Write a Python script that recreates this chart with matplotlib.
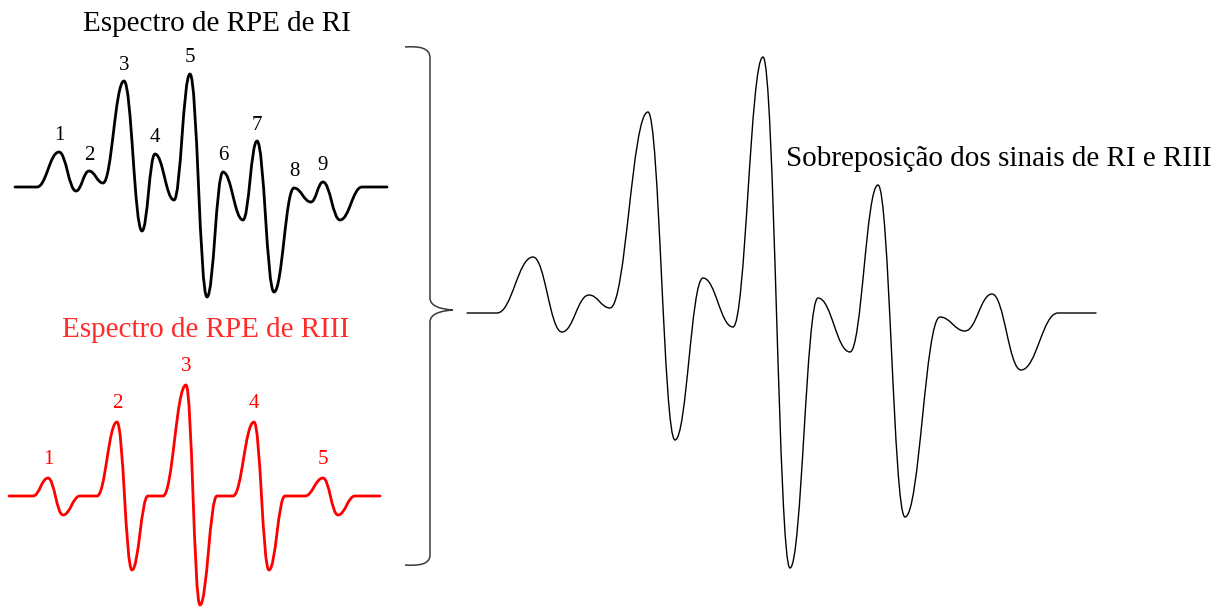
import matplotlib
matplotlib.use("Agg")
import matplotlib.pyplot as plt
from matplotlib.path import Path
from matplotlib.patches import PathPatch

plt.rcParams['font.family'] = ['Liberation Serif', 'DejaVu Serif']

# =====================================================
# Turning points of each spectrum (field, signal), arbitrary units
# =====================================================

# RPE spectrum of RI (black)
ri_field = [0, 22, 44, 61, 74, 88, 109, 127, 140, 159, 175,
            192, 208, 228, 242, 259, 279, 296, 308, 325, 347, 372]
ri_signal = [0, 0, 35, -4, 16, 4, 106, -44, 33, -13, 113,
             -110, 15, -33, 46, -105, -1, -15, 5, -33, 0, 0]
ri_labels = ["1", "2", "3", "4", "5", "6", "7", "8", "9"]

# RPE spectrum of RIII (red)
riii_field = [0, 24, 39, 54, 71, 88, 108, 123, 139, 154, 177, 191,
              208, 224, 245, 260, 276, 296, 314, 329, 346, 371]
riii_signal = [0, 0, 18, -19, 0, 0, 74, -74, 0, 0, 111, -109,
               0, 0, 74, -74, 0, 0, 18, -19, 0, 0]
riii_labels = ["1", "2", "3", "4", "5"]

# superposition of RI and RIII signals
sup_field = [0, 30, 66, 95, 122, 143, 181, 208, 236, 266, 296,
             323, 351, 383, 411, 438, 473, 498, 525, 554, 591, 629]
sup_signal = [0, 0, 56, -19, 18, 5, 201, -127, 35, -14, 256,
              -255, 15, -39, 128, -204, -4, -18, 19, -57, 0, 0]

title_ri = "Espectro de RPE de RI"
title_riii = "Espectro de RPE de RIII"
title_sup = "Sobreposição dos sinais de RI e RIII"

# =====================================================
# Figure
# =====================================================

W, H = 1222, 608
fig = plt.figure(figsize=(W / 100, H / 100), dpi=100)
fig.patch.set_facecolor("white")


def spectrum_axes(x0, y_base, field, signal):
    # axes placed so that one data unit = one pixel
    lo, hi = min(signal) - 5, max(signal) + 5
    fmax = max(field)
    ax = fig.add_axes([x0 / W, 1 - (y_base - lo) / H, fmax / W, (hi - lo) / H])
    ax.set_xlim(0, fmax)
    ax.set_ylim(lo, hi)
    ax.axis("off")
    return ax


def draw_curve(ax, field, signal, color, lw, k=0.42):
    # smooth curve through turning points, flat at every turning point
    verts = [(field[0], signal[0])]
    codes = [Path.MOVETO]
    for i in range(len(field) - 1):
        x0, y0 = field[i], signal[i]
        x1, y1 = field[i + 1], signal[i + 1]
        dx = x1 - x0
        verts += [(x0 + k * dx, y0), (x1 - k * dx, y1), (x1, y1)]
        codes += [Path.CURVE4] * 3
    patch = PathPatch(Path(verts, codes), facecolor="none", edgecolor=color,
                      lw=lw, capstyle="round", joinstyle="round", clip_on=False)
    ax.add_patch(patch)


def label_peaks(ax, field, signal, labels, color, offset):
    peaks = [i for i in range(1, len(signal) - 1)
             if signal[i] > signal[i - 1] and signal[i] > signal[i + 1]]
    for i, lab in zip(peaks, labels):
        ax.annotate(lab, (field[i], signal[i]), xytext=(0, offset),
                    textcoords="offset pixels", ha="center", va="center",
                    fontsize=15, color=color, annotation_clip=False)


# RI
ax1 = spectrum_axes(15, 187, ri_field, ri_signal)
draw_curve(ax1, ri_field, ri_signal, "black", 2.0)
label_peaks(ax1, ri_field, ri_signal, ri_labels, "black", 16)

# RIII
ax2 = spectrum_axes(9, 496, riii_field, riii_signal)
draw_curve(ax2, riii_field, riii_signal, "#ff0000", 2.0)
label_peaks(ax2, riii_field, riii_signal, riii_labels, "#ff0000", 19)

# superposition
ax3 = spectrum_axes(467, 313, sup_field, sup_signal)
draw_curve(ax3, sup_field, sup_signal, "black", 1.0)

# titles
fig.text(217 / W, 1 - 31 / H, title_ri, ha="center", va="baseline",
         fontsize=21, color="black")
fig.text(206 / W, 1 - 337 / H, title_riii, ha="center", va="baseline",
         fontsize=21, color="#ff2a2a")
fig.text(999 / W, 1 - 166 / H, title_sup, ha="center", va="baseline",
         fontsize=21, color="black")

# =====================================================
# Bracket joining both spectra
# =====================================================

ov = fig.add_axes([0, 0, 1, 1], zorder=-1)
ov.set_xlim(0, W)
ov.set_ylim(H, 0)
ov.axis("off")

br = [(405, 47), (420, 46), (430, 48), (430, 58),
      (430, 298),
      (430, 306), (440, 309), (453, 310),
      (440, 311), (430, 314), (430, 322),
      (430, 555),
      (430, 564), (420, 566), (405, 565)]
br_codes = [Path.MOVETO] + [Path.CURVE4] * 3 + [Path.LINETO] + \
    [Path.CURVE4] * 6 + [Path.LINETO] + [Path.CURVE4] * 3
ov.add_patch(PathPatch(Path(br, br_codes), facecolor="none",
                       edgecolor="#3a3a3a", lw=1.1))

plt.savefig("out.png", dpi=100, facecolor="white")
plt.close()
